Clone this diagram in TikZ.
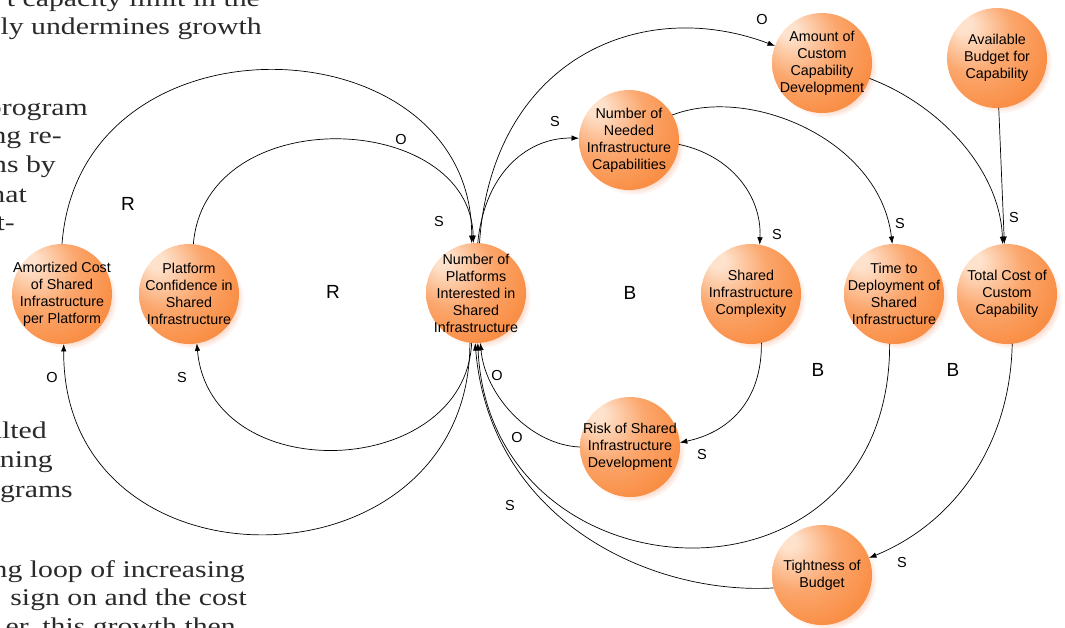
\documentclass[tikz,border=0pt]{standalone}
\usepackage{fontspec}
\setmainfont{Liberation Sans}
\newfontfamily\serifbg{Liberation Serif}
\usepackage{graphicx}
\usetikzlibrary{arrows.meta,shadows}
\definecolor{orbA}{HTML}{FEE2CC}
\definecolor{orbB}{HTML}{FBA66C}
\definecolor{orbC}{HTML}{F98B40}
\definecolor{orbD}{HTML}{F78232}
\definecolor{shadowc}{HTML}{FBDACB}
\definecolor{bgtext}{HTML}{2A2A2A}
\pgfdeclareradialshading{orb}{\pgfpoint{-18bp}{18bp}}{color(0bp)=(orbA);color(4bp)=(orbA);color(20bp)=(orbB);color(36bp)=(orbC);color(60bp)=(orbD)}
\tikzset{
  var/.style={circle, minimum size=100pt, inner sep=0pt, outer sep=0pt, shading=orb,
    circular drop shadow={shadow xshift=5pt, shadow yshift=-5pt, shadow scale=1, fill=shadowc, opacity=1}},
  vtext/.style={align=center, inner sep=0pt, font=\fontsize{14.3}{17}\selectfont},
  conn/.style={draw, line width=0.7pt, -{Latex[length=7.5pt,width=5.5pt]}},
  pol/.style={inner sep=0pt, font=\fontsize{14.5}{16}\selectfont},
  loopl/.style={inner sep=0pt, font=\fontsize{19}{22}\selectfont},
  bgline/.style={anchor=base east, inner sep=0pt, text=bgtext, font=\serifbg\fontsize{24}{29}\selectfont}
}
\newcommand\vnode[3]{\node[var] (#1) at #2 {}; \node[vtext] (#1-t) at (#1) {#3};}
\newcommand\bgl[3]{\node[bgline] (#1) at #2 {\scalebox{1.24}[1]{#3}};}
\begin{document}
\begin{tikzpicture}[x=1pt,y=-1pt]
\useasboundingbox (0,0) rectangle (1065,627);
\clip (0,0) rectangle (1065,627);
% background paper text
\bgl{b1}{(260,6)}{t capacity limit in the}
\bgl{b2}{(262,34)}{ly undermines growth}
\bgl{b3}{(88,115)}{program}
\bgl{b4}{(62,143)}{ng re-}
\bgl{b5}{(56,172)}{ns by}
\bgl{b6}{(27,202)}{hat}
\bgl{b7}{(15,230)}{t-}
\bgl{b8}{(47,438)}{ulted}
\bgl{b9}{(53,467)}{ning}
\bgl{b10}{(73,497)}{ograms}
\bgl{b11}{(245,577)}{ng loop of increasing}
\bgl{b12}{(247,605)}{sign on and the cost}
\bgl{b13}{(236,634)}{er, this growth then}
% variables
\vnode{amort}{(62,294)}{Amortized Cost\\of Shared\\Infrastructure\\per Platform}
\vnode{conf}{(189,294)}{Platform\\Confidence in\\Shared\\Infrastructure}
\vnode{np}{(476,293)}{Number of\\Platforms\\Interested in\\Shared\\Infrastructure}
\vnode{needed}{(629,140)}{Number of\\Needed\\Infrastructure\\Capabilities}
\vnode{amount}{(822,63)}{Amount of\\Custom\\Capability\\Development}
\vnode{budget}{(997,58)}{Available\\Budget for\\Capability}
\vnode{complex}{(751,294)}{Shared\\Infrastructure\\Complexity}
\vnode{time}{(894,294)}{Time to\\Deployment of\\Shared\\Infrastructure}
\vnode{total}{(1007,294)}{Total Cost of\\Custom\\Capability}
\vnode{risk}{(630,447)}{Risk of Shared\\Infrastructure\\Development}
\vnode{tight}{(822,575)}{Tightness of\\Budget}
% connectors
\draw[conn] (amort.north) .. controls (80,5) and (473,20) .. (np.95);
\draw[conn] (conf.85) .. controls (205,100) and (470,110) .. (np.93);
\draw[conn] (np.-97) .. controls (470,595) and (62,600) .. (amort.-88);
\draw[conn] (np.-95) .. controls (465,480) and (210,490) .. (conf.-81);
\draw[conn] (np.88) .. controls (485,170) and (530,137) .. (needed.178);
\draw[conn] (np.86) .. controls (492,60) and (640,-5) .. (amount.160);
\draw[conn] (needed.-5) .. controls (730,155) and (762,195) .. (complex.80);
\draw[conn] (needed.30) .. controls (750,85) and (880,140) .. (time.92);
\draw[conn] (amount.-18) .. controls (940,105) and (1000,170) .. (total.95);
\draw[conn] (budget.-88) -- (total.93);
\draw[conn] (complex.-78) .. controls (762,400) and (730,432) .. (risk.5);
\draw[conn] (risk.180) .. controls (530,445) and (485,395) .. (np.-85);
\draw[conn] (time.-95) .. controls (890,625) and (490,605) .. (np.-88);
\draw[conn] (total.-84) .. controls (1010,450) and (950,525) .. (tight.20);
\draw[conn] (tight.195) .. controls (650,595) and (490,520) .. (np.-91);
% polarity labels
\node[pol] (p1) at (401,140) {O};
\node[pol] (p2) at (439,222) {S};
\node[pol] (p3) at (52,378) {O};
\node[pol] (p4) at (182,378) {S};
\node[pol] (p5) at (555,122) {S};
\node[pol] (p6) at (762,20) {O};
\node[pol] (p7) at (777,235) {S};
\node[pol] (p8) at (900,224) {S};
\node[pol] (p9) at (1014,218) {S};
\node[pol] (p10) at (702,454) {S};
\node[pol] (p11) at (497,376) {O};
\node[pol] (p12) at (517,438) {O};
\node[pol] (p13) at (510,505) {S};
\node[pol] (p14) at (902,562) {S};
% loop labels
\node[loopl] (l1) at (128,204) {R};
\node[loopl] (l2) at (333,292) {R};
\node[loopl] (l3) at (630,293) {B};
\node[loopl] (l4) at (818,370) {B};
\node[loopl] (l5) at (953,370) {B};
\end{tikzpicture}
\end{document}
